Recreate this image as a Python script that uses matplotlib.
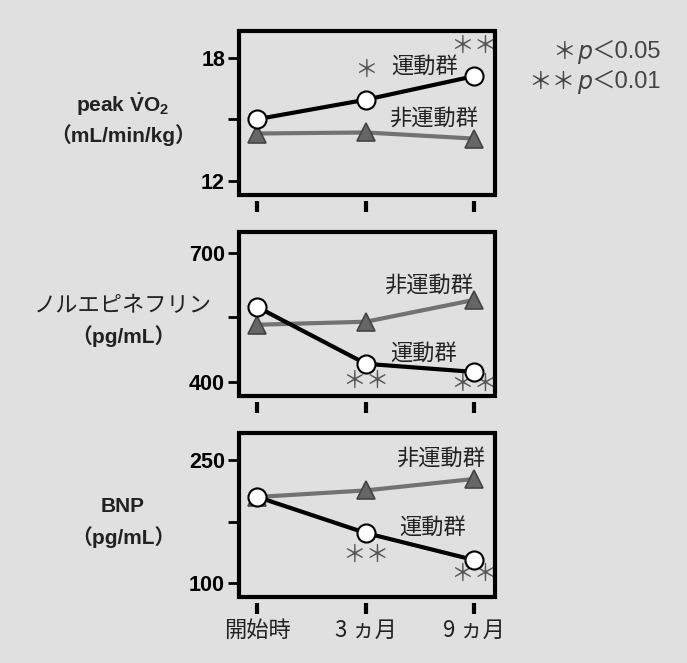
import matplotlib
matplotlib.use("Agg")
import matplotlib.pyplot as plt
from matplotlib import font_manager
from matplotlib.patches import Rectangle

# --- data -------------------------------------------------------------
months = ["開始時", "3 ヵ月", "9 ヵ月"]

vo2_ex = [15.0, 15.95, 17.1]
vo2_non = [14.3, 14.35, 14.05]

ne_ex = [574, 442, 423]
ne_non = [533, 540, 591]

bnp_ex = [205, 161, 128]
bnp_non = [205, 213, 227]

ylabels = [r"peak $\dot{\mathrm{V}}\mathrm{O}_2$", "ノルエピネフリン", "BNP"]
yunits = ["（mL/min/kg）", "（pg/mL）", "（pg/mL）"]
yticks = [[12, 15, 18], [400, 550, 700], [100, 175, 250]]
yticklabels = [["12", "", "18"], ["400", "", "700"], ["100", "", "250"]]
ylims = [(11.3, 19.3), (367, 749), (83, 283)]

# --- fonts ------------------------------------------------------------
available = {f.name for f in font_manager.fontManager.ttflist}
narrow = "Liberation Sans Narrow" if "Liberation Sans Narrow" in available else "Liberation Sans"
JP = "Noto Sans CJK JP"
BOLD = [narrow, JP, "DejaVu Sans"]

plt.rcParams["mathtext.fontset"] = "custom"
plt.rcParams["mathtext.rm"] = f"{narrow}:bold"
plt.rcParams["mathtext.it"] = f"{narrow}:bold"

BG = "#e0e0e0"
GRAY = "#727272"

fig = plt.figure(figsize=(6.87, 6.63), dpi=100, facecolor=BG)

W = 687
H = 663


def axes_rect(left, top, right, bottom):
    return [left / W, 1 - bottom / H, (right - left) / W, (bottom - top) / H]


rects = [axes_rect(239, 31, 495, 195),
         axes_rect(239, 232, 495, 396),
         axes_rect(239, 433, 495, 597)]

series = [(vo2_ex, vo2_non), (ne_ex, ne_non), (bnp_ex, bnp_non)]
x = list(range(len(months)))

axes = []
for i, rect in enumerate(rects):
    ax = fig.add_axes(rect)
    ax.set_facecolor(BG)
    # detach the bottom ticks from the frame (must come before tick labels)
    for s in ax.spines.values():
        s.set_visible(False)
    ax.spines["bottom"].set_position(("outward", 4))

    ex, non = series[i]
    ax.plot(x, non, color=GRAY, lw=3, marker="^", ms=13, mfc="#666666",
            mec="#444444", mew=1.2, zorder=3, clip_on=False)
    ax.plot(x, ex, color="black", lw=3, marker="o", ms=13, mfc="white",
            mec="black", mew=1.5, zorder=4, clip_on=False)
    ax.set_xlim(-0.17, 2.19)
    ax.set_ylim(*ylims[i])
    ax.set_yticks(yticks[i])
    ax.set_yticklabels(yticklabels[i], fontfamily=BOLD, fontweight="bold", fontsize=15.5)
    ax.set_xticks(x)
    if i == 2:
        ax.set_xticklabels(months, fontfamily=[JP], fontsize=16, color="#222222")
    else:
        ax.set_xticklabels([])
    ax.add_patch(Rectangle((0, 0), 1, 1, transform=ax.transAxes, fill=False,
                           lw=3, ec="black", clip_on=False, zorder=5))
    ax.tick_params(axis="y", direction="out", length=8, width=2, pad=2, colors="black")
    ax.tick_params(axis="x", direction="out", length=8, width=3, pad=4)
    axes.append(ax)

    # y-axis titles
    cy = (rect[1] + rect[3] / 2) - 7 / H
    fig.text(123 / W, cy + 0.023, ylabels[i],
             fontfamily=(BOLD if i != 1 else [JP]),
             fontweight=("bold" if i != 1 else "normal"),
             fontsize=(15 if i != 1 else 16), ha="center", va="center",
             color="#222222")
    fig.text(123 / W, cy - 0.023, yunits[i], fontfamily=BOLD, fontweight="bold",
             fontsize=15, ha="center", va="center", color="#222222")

txt = dict(fontfamily=[JP], fontsize=16, ha="center", va="center", color="#222222")
star = dict(fontfamily=[JP], fontsize=17, ha="center", va="center", color="#555555")

ax1, ax2, ax3 = axes
ax1.text(1.54, 17.56, "運動群", **txt)
ax1.text(1.62, 15.02, "非運動群", **txt)
ax1.text(1, 17.37, "＊", **star)
ax1.text(2, 18.55, "＊＊", **star)

ax2.text(1.58, 626, "非運動群", **txt)
ax2.text(1.53, 467, "運動群", **txt)
ax2.text(1, 400, "＊＊", **star)
ax2.text(2, 393, "＊＊", **star)

ax3.text(1.69, 252, "非運動群", **txt)
ax3.text(1.61, 168, "運動群", **txt)
ax3.text(1, 134, "＊＊", **star)
ax3.text(2, 110, "＊＊", **star)

# significance legend
leg = dict(fontsize=17, va="center", color="#444444")
for ypx, stars, p in [(52, "＊", "＜0.05"), (82, "＊＊", "＜0.01")]:
    fig.text(576 / W, 1 - ypx / H, stars, ha="right", fontfamily=[JP], **leg)
    fig.text(577 / W, 1 - ypx / H, "p", ha="left", fontfamily=["DejaVu Sans"],
             style="italic", **leg)
    fig.text(592 / W, 1 - ypx / H, p, ha="left",
             fontfamily=["Liberation Sans", JP], **leg)

fig.savefig("out.png", dpi=100, facecolor=BG)
